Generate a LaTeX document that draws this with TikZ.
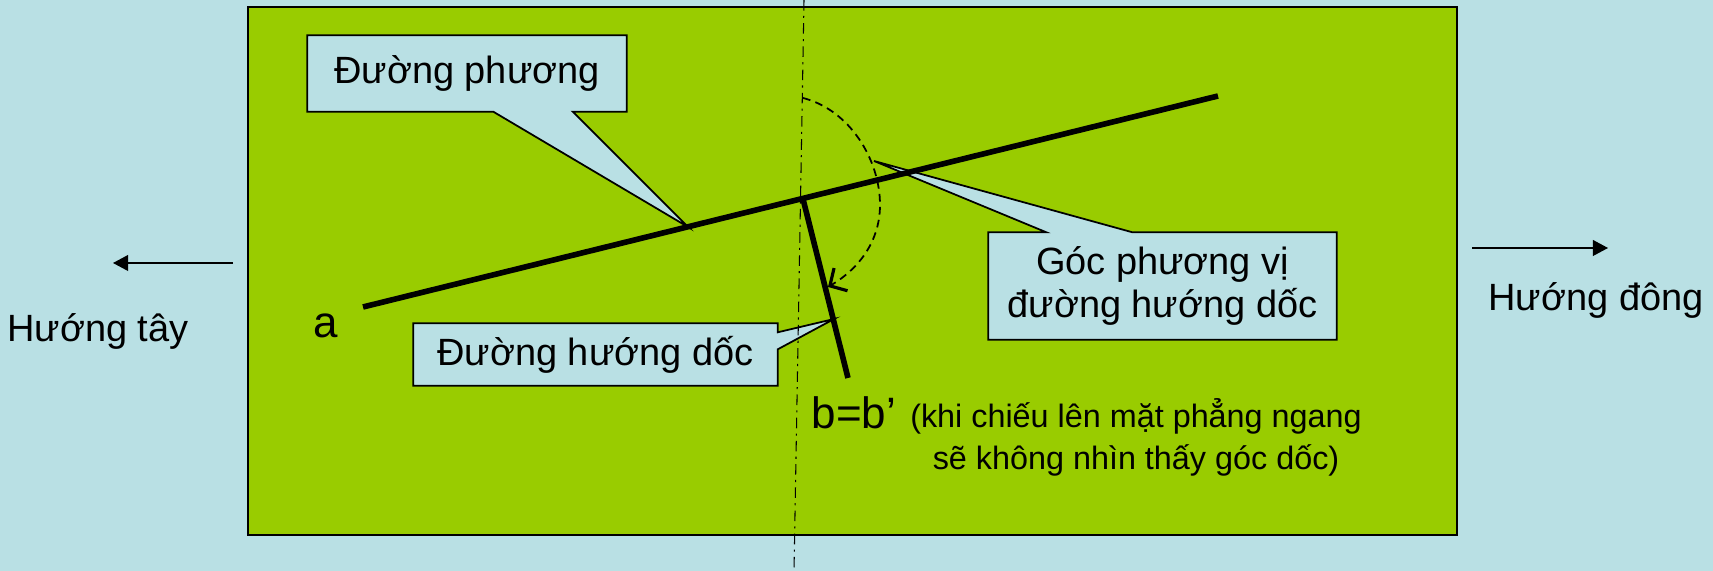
\documentclass[tikz,border=0pt]{standalone}
\usepackage{fontspec}
\setmainfont{Liberation Sans}
\usetikzlibrary{arrows.meta}
\usetikzlibrary{calc}
\definecolor{paleBlue}{HTML}{B9E0E4}
\definecolor{planeGreen}{HTML}{99CC00}
\pgfdeclarelayer{bottom}
\pgfdeclarelayer{shapes}
\pgfsetlayers{bottom,shapes,main}

\begin{document}
\begin{tikzpicture}[x=0.01cm, y=-0.01cm,
		callout/.style={fill=paleBlue, draw=black, line width=0.5pt, line join=miter},
		boxText/.style={font=\fontsize{10.8}{12.2}\selectfont, inner sep=0pt, align=center},
		bigText/.style={font=\fontsize{12.5}{15}\selectfont, inner sep=0pt},
		noteText/.style={font=\fontsize{9.2}{12}\selectfont, inner sep=0pt, align=center},
		strikeLine/.style={line width=1.6pt},
		axisLine/.style={line width=0.3pt, dash pattern=on 3pt off 1.5pt on 0.6pt off 1.5pt},
		compass/.style={line width=0.4pt, -{Triangle[length=4.3pt, width=4.5pt]}},
	]
	\useasboundingbox (0,0) rectangle (1713,571);
	\begin{pgfonlayer}{bottom}
		\fill[paleBlue] (0,0) rectangle (1713,571);
		\draw[fill=planeGreen, line width=0.5pt] (248,7) rectangle (1457,535);
	\end{pgfonlayer}

	\coordinate (N_top) at (804,0);
	\coordinate (N_bot) at (794,571);
	\coordinate (S_L) at (363,307);
	\coordinate (S_R) at (1218,96);
	\coordinate (D_top) at (803,199);
	\coordinate (D_bot) at (848,378);
	\coordinate (Arc_start) at (803,98);
	\coordinate (Arc_mid) at (880,205);
	\coordinate (Arc_end) at (828,287);
	\coordinate (Tip_dp) at (688,227);
	\coordinate (Tip_gp) at (874,161);
	\coordinate (Tip_dh) at (834,319);
	\coordinate (W_from) at (233,263);
	\coordinate (W_to) at (113,263);
	\coordinate (E_from) at (1472,248);
	\coordinate (E_to) at (1608,248);

	\draw[axisLine] (N_top) -- (N_bot);
	\draw[strikeLine] (S_L) -- (S_R);
	\draw[strikeLine] (D_top) -- (D_bot);
	\draw[line width=0.5pt, dash pattern=on 2.2pt off 1.5pt, -{Straight Barb[length=3.6pt, width=7.5pt, line width=0.9pt]}]
		(Arc_start) .. controls (850,110) and (880,160) .. (Arc_mid)
		.. controls (880,240) and (860,268) .. (Arc_end);

	\node[boxText, minimum width=3.18cm, minimum height=0.75cm] (dp) at (467,73.5) {Đường phương};
	\node[boxText, minimum width=3.47cm, minimum height=1.06cm] (gp) at (1162.5,286) {Góc phương vị\\đường hướng dốc};
	\node[boxText, minimum width=3.63cm, minimum height=0.61cm] (dh) at (595.5,354.5) {Đường hướng dốc};

	\begin{pgfonlayer}{shapes}
		\draw[callout] (dp.north west) -- (dp.north east) -- (dp.south east) -- ([xshift=-0.54cm]dp.south east)
			-- (Tip_dp) -- ([xshift=1.86cm]dp.south west) -- (dp.south west) -- cycle;
		\draw[callout] (gp.south west) -- (gp.north west) -- ([xshift=0.58cm]gp.north west)
			-- (Tip_gp) -- ([xshift=1.44cm]gp.north west) -- (gp.north east) -- (gp.south east) -- cycle;
		\draw[callout] (dh.north west) -- (dh.north east) -- ([yshift=-0.09cm]dh.north east)
			-- (Tip_dh) -- ([yshift=-0.26cm]dh.north east) -- (dh.south east) -- (dh.south west) -- cycle;
	\end{pgfonlayer}

	\node[bigText] (a) at (326,326) {a};
	\node[bigText, anchor=base west] (b) at (811,429) {b=b’};
	\node[noteText, anchor=base] (note) at (1136,470) {(khi chiếu lên mặt phẳng ngang\\sẽ không nhìn thấy góc dốc)};

	\draw[compass] (W_from) -- (W_to);
	\draw[compass] (E_from) -- (E_to);
	\node[boxText, anchor=base] (west) at (98,342) {Hướng tây};
	\node[boxText, anchor=base] (east) at (1596,311) {Hướng đông};
\end{tikzpicture}
\end{document}
